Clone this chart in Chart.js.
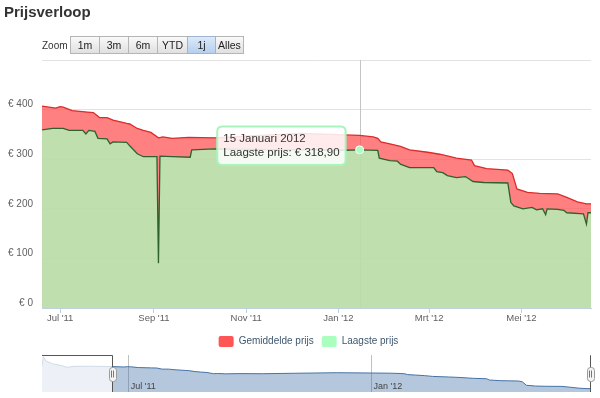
<!DOCTYPE html>
<html>
<head>
<meta charset="utf-8">
<script src="https://cdn.jsdelivr.net/npm/chart.js@4/dist/chart.umd.min.js"></script>
<style>
  body { margin: 0; width: 600px; height: 398px; position: relative; overflow: hidden; background: #fff;
         font-family: 'Liberation Sans', Arial, sans-serif; }
  canvas { position: absolute; left: 0; }
  #title { position: absolute; left: 4px; top: 3px; font-weight: bold; font-size: 15px; color: #333; }
  #zoomlbl { position: absolute; left: 42px; top: 39px; font-size: 10px; color: #333; line-height: 14px; }
  #btns { position: absolute; left: 71px; top: 36px; display: flex; }
  #btns span { box-sizing: border-box; height: 18px; border: 1px solid #b5b5b5; margin-left: -1px;
               background: linear-gradient(#f9f9f9, #e0e0e0); font-size: 10.5px; color: #222;
               text-align: center; line-height: 16px; }
  #btns span.sel { background: linear-gradient(#dde9f8, #b6cff0); border-color: #9fb4d2; position: relative; }
</style>
</head>
<body>
<canvas id="main" width="600" height="357" style="top:0"></canvas>
<canvas id="nav" width="600" height="48" style="top:350px"></canvas>
<div id="title">Prijsverloop</div>
<div id="zoomlbl">Zoom</div>
<div id="btns">
  <span style="width:30px">1m</span><span style="width:30px">3m</span><span style="width:30px">6m</span><span style="width:31px">YTD</span><span class="sel" style="width:29px">1j</span><span style="width:29px">Alles</span>
</div>
<script>
// gemiddelde prijs (average price)
var avgDates = ['2011-06-19', '2011-06-28', '2011-07-01', '2011-07-03', '2011-07-09', '2011-07-19', '2011-07-23',
    '2011-07-27', '2011-08-01', '2011-08-05', '2011-08-14', '2011-08-16', '2011-08-21', '2011-08-25', '2011-08-30',
    '2011-09-04', '2011-09-07', '2011-09-13', '2011-09-24', '2011-10-11', '2011-11-04', '2011-12-07', '2012-01-05',
    '2012-01-15', '2012-01-24', '2012-01-27', '2012-01-29', '2012-02-04', '2012-02-11', '2012-02-17', '2012-02-29',
    '2012-03-08', '2012-03-15', '2012-03-19', '2012-03-29', '2012-03-31', '2012-04-08', '2012-04-22', '2012-04-25',
    '2012-04-28', '2012-05-05', '2012-05-13', '2012-05-25', '2012-05-31', '2012-06-07', '2012-06-13', '2012-06-16']
var avgPrices = [407, 403, 406, 405, 398, 395, 394,
    384, 384, 379, 372, 371, 362, 358, 354,
    343, 345, 342, 344, 343, 347, 352, 349,
    348, 345, 342, 335, 331, 326, 319, 314,
    310, 305, 302, 298, 287, 281, 278, 271,
    240, 233, 231, 230, 223, 214, 210, 210]

// laagste prijs (lowest price)
var lowDates = ['2011-06-19', '2011-06-26', '2011-07-03', '2011-07-07', '2011-07-16', '2011-07-18', '2011-07-20',
    '2011-07-24', '2011-07-26', '2011-08-01', '2011-08-03', '2011-08-05', '2011-08-14', '2011-08-16', '2011-08-21',
    '2011-08-25', '2011-09-03', '2011-09-04', '2011-09-05', '2011-09-13', '2011-09-25', '2011-09-26', '2011-10-11',
    '2011-11-04', '2011-12-07', '2012-01-05', '2012-01-15', '2012-01-27', '2012-01-28', '2012-02-04', '2012-02-09',
    '2012-02-11', '2012-02-17', '2012-03-04', '2012-03-06', '2012-03-10', '2012-03-13', '2012-03-19', '2012-03-25',
    '2012-03-30', '2012-04-06', '2012-04-22', '2012-04-24', '2012-04-26', '2012-05-02', '2012-05-08', '2012-05-11',
    '2012-05-15', '2012-05-17', '2012-05-18', '2012-05-25', '2012-05-29', '2012-05-31', '2012-06-11', '2012-06-13',
    '2012-06-14', '2012-06-16']
var lowPrices = [359, 362, 362, 358, 358, 351, 358,
    356, 342, 341, 331, 335, 334, 327, 311,
    305, 305, 90, 306, 305, 304, 319, 321,
    320, 319, 318, 318.9, 318, 302, 297, 296,
    290, 283, 283, 275, 273, 267, 263, 265,
    255, 253, 252, 213, 206, 200, 203, 198,
    200, 188, 200, 199, 197, 192, 190, 169,
    192, 192]

// navigator: earlier history of the average price, before the zoomed range
var navEarlyDates = ['2011-04-27', '2011-04-28', '2011-04-30', '2011-05-05', '2011-05-11', '2011-05-16', '2011-05-22', '2011-06-02']
var navEarlyPrices = [413, 495, 457, 431, 418, 400, 409, 410]

var yTicks = [0, 100, 200, 300, 400, 500]
var tickDates = ['2011-07-01', '2011-09-01', '2011-11-01', '2012-01-01', '2012-03-01', '2012-05-01']
var tickLabels = ["Jul '11", "Sep '11", "Nov '11", "Jan '12", "Mrt '12", "Mei '12"]
var navTickDates = ['2011-07-01', '2012-01-01']
var navTickLabels = ["Jul '11", "Jan '12"]
var tooltipDate = '2012-01-15'
var maanden = ['Januari', 'Februari', 'Maart', 'April', 'Mei', 'Juni', 'Juli', 'Augustus', 'September', 'Oktober', 'November', 'December']

var FONT = "'Liberation Sans', Arial, sans-serif"
Chart.defaults.font.family = FONT

// day number counted from 1 Jul 2011
function day(s) {
    return (Date.UTC(+s.slice(0, 4), +s.slice(5, 7) - 1, +s.slice(8, 10)) - Date.UTC(2011, 6, 1)) / 86400000
}
function dayToText(d) {
    var dt = new Date(Date.UTC(2011, 6, 1) + d * 86400000)
    return dt.getUTCDate() + ' ' + maanden[dt.getUTCMonth()] + ' ' + dt.getUTCFullYear()
}
function pts(dates, vals) {
    return dates.map((d, i) => ({ x: day(d), y: vals[i] }))
}

var legendColors = ['#ff5555', '#aaffbe']
var xMin = day(avgDates[0]), xMax = day(avgDates[avgDates.length - 1])

Chart.Tooltip.positioners.pointUp = function (items) {
    if (!items.length) return false
    return { x: items[0].element.x, y: items[0].element.y - 4 }
}

var crosshair = {
    id: 'crosshair',
    beforeDatasetsDraw(chart) {
        var ctx = chart.ctx, a = chart.chartArea
        var px = Math.round(chart.scales.x.getPixelForValue(day(tooltipDate))) + 0.5
        ctx.save()
        ctx.strokeStyle = '#c4c4c4'
        ctx.lineWidth = 1
        ctx.beginPath()
        ctx.moveTo(px, a.top)
        ctx.lineTo(px, a.bottom)
        ctx.stroke()
        ctx.restore()
    }
}

// legend sits a little right of the canvas centre
var legendShift = {
    id: 'legendShift',
    afterLayout(chart) { chart.legend.left += 26 }
}

var main = new Chart(document.getElementById('main'), {
    type: 'line',
    data: {
        datasets: [{
            label: 'Gemiddelde prijs',
            data: pts(avgDates, avgPrices),
            borderColor: '#dd2a2a',
            backgroundColor: 'rgba(255, 85, 85, 0.75)',
            borderWidth: 1.3,
            fill: 'origin',
            pointRadius: 0,
            pointHoverRadius: 0,
            order: 1
        }, {
            label: 'Laagste prijs',
            data: pts(lowDates, lowPrices),
            borderColor: '#2f612f',
            backgroundColor: 'rgba(170, 255, 190, 0.75)',
            borderWidth: 1.3,
            fill: 'origin',
            pointRadius: 0,
            pointHoverRadius: 4,
            pointHoverBorderWidth: 1,
            pointHoverBackgroundColor: '#aaffbe',
            pointHoverBorderColor: '#ffffff',
            order: 0
        }]
    },
    options: {
        responsive: false,
        animation: false,
        events: [],
        layout: { padding: { top: 60, right: 9, left: 0, bottom: 0 } },
        scales: {
            x: {
                type: 'linear',
                min: xMin,
                max: xMax,
                afterBuildTicks: s => { s.ticks = tickDates.map(d => ({ value: day(d) })) },
                afterFit: s => { s.height = 20 },
                ticks: {
                    callback: (v, i) => tickLabels[i],
                    color: '#606060',
                    font: { size: 9.5 },
                    maxRotation: 0,
                    autoSkip: false,
                    padding: 0
                },
                grid: { drawOnChartArea: false, tickLength: 5, color: '#c0d0e0' },
                border: { color: '#c0d0e0' }
            },
            y: {
                min: 0,
                max: 500,
                afterBuildTicks: s => { s.ticks = yTicks.map(v => ({ value: v })) },
                afterFit: s => { s.width = 42 },
                ticks: {
                    callback: v => v === 500 ? '' : '€ ' + v,
                    color: '#606060',
                    font: { size: 10 },
                    padding: 9,
                    labelOffset: -5
                },
                grid: { color: '#e2e2e2', drawTicks: false },
                border: { display: false }
            }
        },
        plugins: {
            legend: {
                position: 'bottom',
                labels: {
                    boxWidth: 15,
                    boxHeight: 11,
                    padding: 8,
                    color: '#3e576f',
                    font: { size: 10 },
                    useBorderRadius: true,
                    borderRadius: 2,
                    sort: (a, b) => a.datasetIndex - b.datasetIndex,
                    generateLabels: chart => Chart.defaults.plugins.legend.labels.generateLabels(chart).map(l =>
                        Object.assign(l, { fillStyle: legendColors[l.datasetIndex], strokeStyle: 'rgba(0,0,0,0)', lineWidth: 0 }))
                }
            },
            tooltip: {
                position: 'pointUp',
                backgroundColor: 'rgba(255, 255, 255, 0.85)',
                borderColor: '#a8f5bc',
                borderWidth: 2,
                cornerRadius: 5,
                titleColor: '#333',
                bodyColor: '#333',
                titleFont: { size: 11.5, weight: 'normal', lineHeight: 1.15 },
                bodyFont: { size: 11.5, lineHeight: 1.15 },
                titleMarginBottom: 0,
                padding: { x: 6, y: 6 },
                displayColors: false,
                caretSize: 0,
                caretPadding: 14,
                xAlign: 'right',
                yAlign: 'center',
                callbacks: {
                    title: items => dayToText(items[0].parsed.x),
                    label: item => item.dataset.label + ': € ' + item.parsed.y.toFixed(2).replace('.', ',')
                }
            }
        }
    },
    plugins: [crosshair, legendShift]
})

var ti = lowDates.indexOf(tooltipDate)
var act = [{ datasetIndex: 1, index: ti }]
main.setActiveElements(act)
main.tooltip.setActiveElements(act, { x: 360, y: 150 })
main.update()

// navigator below the chart
var navPlugin = {
    id: 'navParts',
    beforeDatasetsDraw(chart) {
        var ctx = chart.ctx, a = chart.chartArea, x = chart.scales.x
        ctx.save()
        ctx.strokeStyle = '#c0c0c0'
        ctx.lineWidth = 1
        navTickDates.forEach(d => {
            var px = Math.round(x.getPixelForValue(day(d))) + 0.5
            ctx.beginPath()
            ctx.moveTo(px, a.top)
            ctx.lineTo(px, a.bottom)
            ctx.stroke()
        })
        ctx.restore()
    },
    afterDatasetsDraw(chart) {
        var ctx = chart.ctx, a = chart.chartArea, x = chart.scales.x
        var selL = Math.round(x.getPixelForValue(xMin)) + 0.5
        var selR = Math.round(x.getPixelForValue(xMax)) - 0.5
        ctx.save()
        ctx.fillStyle = 'rgba(255, 255, 255, 0.75)'
        ctx.fillRect(a.left, a.top, selL - a.left, a.bottom - a.top)
        ctx.fillStyle = '#444'
        ctx.font = '9px ' + FONT
        ctx.textBaseline = 'alphabetic'
        navTickDates.forEach((d, i) => {
            ctx.fillText(navTickLabels[i], x.getPixelForValue(day(d)) + 3, a.bottom - 3)
        })
        var top = a.top + 0.5
        ctx.strokeStyle = '#555'
        ctx.lineWidth = 1
        ctx.beginPath()
        ctx.moveTo(a.left, top)
        ctx.lineTo(selL, top)
        ctx.lineTo(selL, a.bottom)
        ctx.moveTo(selR, a.bottom)
        ctx.lineTo(selR, top)
        ctx.lineTo(a.right, top)
        ctx.stroke()
        var cy = (a.top + a.bottom) / 2
        ;[selL, selR].forEach(hx => {
            ctx.fillStyle = '#f4f4f4'
            ctx.strokeStyle = '#999'
            ctx.beginPath()
            ctx.roundRect(Math.round(hx - 4) + 0.5, Math.round(cy - 7) + 0.5, 7, 14, 3)
            ctx.fill()
            ctx.stroke()
            ctx.strokeStyle = '#777'
            ctx.beginPath()
            ctx.moveTo(Math.round(hx) - 1.5, cy - 3)
            ctx.lineTo(Math.round(hx) - 1.5, cy + 4)
            ctx.moveTo(Math.round(hx) + 0.5, cy - 3)
            ctx.lineTo(Math.round(hx) + 0.5, cy + 4)
            ctx.stroke()
        })
        ctx.restore()
    }
}

var nav = new Chart(document.getElementById('nav'), {
    type: 'line',
    data: {
        datasets: [{
            data: pts(navEarlyDates.concat(avgDates), navEarlyPrices.concat(avgPrices)),
            borderColor: '#4572a7',
            backgroundColor: 'rgba(69, 114, 167, 0.4)',
            borderWidth: 1,
            fill: 'start',
            pointRadius: 0
        }]
    },
    options: {
        responsive: false,
        animation: false,
        events: [],
        layout: { padding: { left: 42, right: 9, top: 5, bottom: 6 } },
        scales: {
            x: { type: 'linear', display: false, min: day(navEarlyDates[0]), max: xMax },
            y: { display: false, min: 180, max: 510 }
        },
        plugins: { legend: { display: false }, tooltip: { enabled: false } }
    },
    plugins: [navPlugin]
})
</script>
</body>
</html>
